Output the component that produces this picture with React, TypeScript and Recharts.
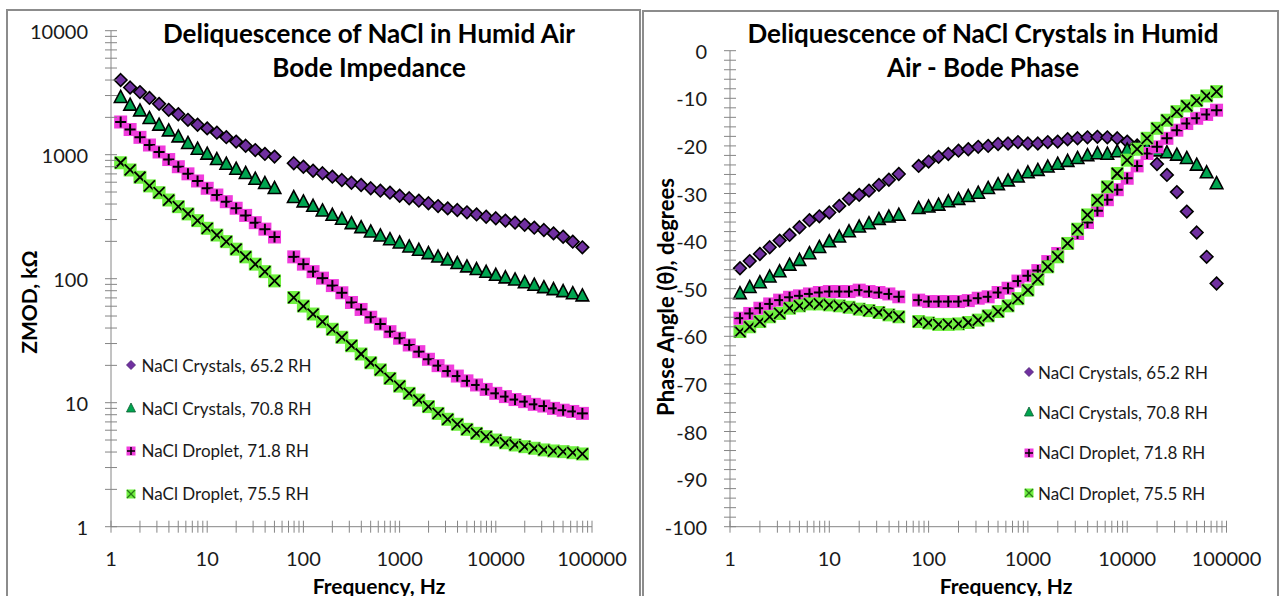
import React from 'react';
import { ScatterChart, Scatter, XAxis, YAxis, Legend } from 'recharts';

// ---------- data ----------
const FREQ_HZ = [
  1.26, 1.58, 2.0, 2.51, 3.16, 3.98, 5.01, 6.31, 7.94, 10.0, 12.6, 15.8, 20.0, 25.1, 31.6, 39.8, 50.1,
  79.4, 100, 126, 158, 200, 251, 316, 398, 501, 631, 794, 1000, 1259, 1585, 1995, 2512, 3162, 3981, 5012, 6310,
  7943, 10000, 12589, 15849, 19953, 25119, 31623, 39811, 50119, 63096, 79433,
];

const SERIES_NAMES = [
  'NaCl Crystals, 65.2 RH',
  'NaCl Crystals, 70.8 RH',
  'NaCl Droplet, 71.8 RH',
  'NaCl Droplet, 75.5 RH',
];

// |Z| in kOhm
const ZMOD_652 = [
  4000, 3480, 3200, 2870, 2570, 2300, 2120, 1910, 1745, 1630, 1505, 1385, 1275, 1180, 1090, 1015, 965,
  853, 800, 743, 708, 665, 625, 594, 570, 536, 513, 494, 467, 445, 426, 406, 385, 369, 358, 343, 330,
  316, 307, 294, 283, 272, 258, 247, 232, 218, 199, 179,
];
const ZMOD_708 = [
  2904, 2518, 2265, 1968, 1738, 1563, 1397, 1236, 1112, 1014, 918, 841, 767, 708, 637, 588, 536,
  453, 418, 385, 353, 326, 303, 279, 259, 239, 222, 207, 195, 181, 170, 160, 150, 142, 133, 125, 119,
  113, 107, 102, 98, 93, 89, 85, 82, 79, 76, 73,
];
const ZMOD_718 = [
  1835, 1596, 1380, 1197, 1052, 914, 800, 701, 614, 536, 473, 418, 370, 324, 283, 251, 217,
  150, 131, 114, 101, 88, 77, 64.3, 56.5, 48.9, 43.1, 37.4, 33.1, 29.2, 25.8, 22.4, 19.9, 18.0, 16.4, 15.0, 13.9,
  12.8, 11.9, 11.2, 10.6, 10.2, 9.7, 9.4, 9.0, 8.7, 8.5, 8.2,
];
const ZMOD_755 = [
  861, 753, 658, 560, 494, 431, 381, 333, 294, 255, 225, 199, 173, 150, 131, 114, 96,
  70.5, 60.2, 51.9, 45.0, 39.1, 33.7, 28.8, 24.7, 21.0, 18.4, 15.7, 13.6, 11.9, 10.5, 9.3, 8.2, 7.35, 6.7, 6.1, 5.66,
  5.32, 5.0, 4.75, 4.56, 4.42, 4.29, 4.16, 4.08, 4.03, 3.95, 3.86,
];

// phase in degrees
const PHASE_652 = [
  -45.7, -44.2, -42.7, -41.3, -39.9, -38.7, -37.1, -35.6, -34.8, -34.0, -32.6, -31.1, -30.3, -29.4, -28.2, -27.1, -25.9,
  -24.2, -23.3, -22.3, -21.7, -21.0, -20.7, -20.2, -20.0, -19.6, -19.5, -19.2, -19.5, -19.5, -19.2, -19.1, -18.6, -18.4,
  -18.2, -18.1, -18.2, -18.4, -19.1, -19.9, -21.3, -23.8, -26.1, -29.7, -33.8, -38.2, -43.3, -48.9,
];
const PHASE_708 = [
  -51.0, -49.7, -48.7, -47.5, -46.4, -45.0, -44.0, -42.6, -41.3, -40.1, -39.1, -38.0, -37.0, -36.3, -35.4, -34.9, -34.5,
  -33.1, -32.8, -32.4, -31.7, -31.2, -30.6, -29.9, -28.9, -28.1, -27.3, -26.5, -25.6, -25.1, -24.4, -23.8, -23.2, -22.6,
  -22.0, -21.6, -21.7, -21.2, -20.8, -20.4, -20.5, -21.0, -21.4, -21.9, -22.6, -24.0, -25.6, -27.9,
];
const PHASE_718 = [
  -56.2, -55.2, -54.1, -53.2, -52.4, -51.8, -51.5, -51.1, -50.8, -50.6, -50.6, -50.6, -50.3, -50.6, -50.8, -51.1, -51.7,
  -52.4, -52.7, -52.7, -52.7, -52.7, -52.5, -52.0, -51.7, -50.8, -49.9, -48.4, -47.3, -46.2, -44.3, -42.6, -40.5, -38.4,
  -36.1, -33.6, -31.3, -29.2, -26.8, -24.2, -21.6, -20.2, -18.4, -16.7, -15.3, -14.2, -13.4, -12.5,
];
const PHASE_755 = [
  -59.0, -58.0, -56.9, -55.9, -55.2, -54.1, -53.6, -53.2, -53.2, -53.4, -53.6, -53.9, -54.3, -54.6, -55.0, -55.5, -55.9,
  -56.9, -57.2, -57.5, -57.5, -57.4, -57.1, -56.6, -55.7, -54.8, -53.6, -52.1, -50.3, -48.0, -45.4, -43.3, -40.5, -37.5,
  -34.5, -31.4, -28.6, -25.8, -23.0, -20.7, -18.4, -16.3, -14.6, -12.8, -11.6, -10.5, -9.5, -8.6,
];

// ticks
const X_MAJOR_TICKS = [1, 10, 100, 1000, 10000, 100000];
const X_TICK_LABELS = ['1', '10', '100', '1000', '10000', '100000'];
const ZMOD_MAJOR_TICKS = [1, 10, 100, 1000, 10000];
const ZMOD_TICK_LABELS = ['1', '10', '100', '1000', '10000'];
const PHASE_MAJOR_TICKS = [0, -10, -20, -30, -40, -50, -60, -70, -80, -90, -100];
const PHASE_TICK_LABELS = ['0', '-10', '-20', '-30', '-40', '-50', '-60', '-70', '-80', '-90', '-100'];
const LOG_MINOR_MULTIPLIERS = [2, 3, 4, 5, 6, 7, 8, 9];
const PHASE_MINOR_STEP = 2;

const TITLE_LEFT = ['Deliquescence of NaCl in Humid Air', 'Bode Impedance'];
const TITLE_RIGHT = ['Deliquescence of NaCl Crystals in Humid', 'Air - Bode Phase'];
const X_TITLE = 'Frequency, Hz';
const Y_TITLE_LEFT = 'ZMOD, kΩ';
const Y_TITLE_RIGHT = 'Phase Angle (θ), degrees';

// ---------- style ----------
const FONT = "Lato, 'Open Sans', sans-serif";
const AXIS_GRAY = '#868686';
const BORDER_GRAY = '#8c8c8c';
const PURPLE = '#7030A0';
const GREEN = '#00A550';
const MAGENTA = '#F03CDC';
const LIME = '#70F040';

const logTicks = (majors: number[]) => {
  const out = [...majors];
  majors.slice(0, -1).forEach((d) => LOG_MINOR_MULTIPLIERS.forEach((m) => out.push(m * d)));
  return out;
};
const X_TICKS = logTicks(X_MAJOR_TICKS);
const ZMOD_TICKS = logTicks(ZMOD_MAJOR_TICKS);
const PHASE_TICKS = (() => {
  const out: number[] = [];
  for (let v = 0; v >= -100; v -= PHASE_MINOR_STEP) out.push(v);
  return out;
})();

const labelFor = (majors: number[], labels: string[], v: number) => {
  const i = majors.indexOf(v);
  return i >= 0 ? labels[i] : null;
};

function makeXTick(majors: number[], labels: string[]) {
  return (props: any) => {
    const { x, y, payload } = props;
    const lab = labelFor(majors, labels, payload.value);
    return (
      <g>
        <line x1={x} x2={x} y1={y - 6} y2={y + 6} stroke={AXIS_GRAY} strokeWidth={1} />
        {lab !== null && (
          <text x={x} y={y + 31} textAnchor="middle" dominantBaseline="central" fontSize={20} fill="#1a1a1a" fontFamily={FONT}>
            {lab}
          </text>
        )}
      </g>
    );
  };
}

function makeYTick(majors: number[], labels: string[]) {
  return (props: any) => {
    const { x, y, payload } = props;
    const lab = labelFor(majors, labels, payload.value);
    return (
      <g>
        <line x1={x - 6} x2={x + 6} y1={y} y2={y} stroke={AXIS_GRAY} strokeWidth={1} />
        {lab !== null && (
          <text x={x - 23} y={y} textAnchor="end" dominantBaseline="central" fontSize={20} fill="#1a1a1a" fontFamily={FONT}>
            {lab}
          </text>
        )}
      </g>
    );
  };
}

// ---------- markers ----------
const Diamond = (p: any) => {
  const { cx, cy } = p;
  const r = 6.3;
  return <polygon points={`${cx},${cy - r} ${cx + r},${cy} ${cx},${cy + r} ${cx - r},${cy}`} fill={PURPLE} stroke="#000" strokeWidth={1.6} />;
};
const Triangle = (p: any) => {
  const { cx, cy } = p;
  return <polygon points={`${cx},${cy - 6.8} ${cx + 6.3},${cy + 5.2} ${cx - 6.3},${cy + 5.2}`} fill={GREEN} stroke="#000" strokeWidth={1.6} strokeLinejoin="miter" />;
};
const PlusSq = (p: any) => {
  const { cx, cy } = p;
  return (
    <g>
      <rect x={cx - 6.5} y={cy - 6.5} width={13} height={13} fill={MAGENTA} />
      <line x1={cx - 5.5} x2={cx + 5.5} y1={cy} y2={cy} stroke="#000" strokeWidth={2} />
      <line x1={cx} x2={cx} y1={cy - 5.5} y2={cy + 5.5} stroke="#000" strokeWidth={2} />
    </g>
  );
};
const XSq = (p: any) => {
  const { cx, cy } = p;
  return (
    <g>
      <rect x={cx - 6.5} y={cy - 6.5} width={13} height={13} fill={LIME} />
      <line x1={cx - 5.5} x2={cx + 5.5} y1={cy - 5.5} y2={cy + 5.5} stroke="#000" strokeWidth={1.8} />
      <line x1={cx - 5.5} x2={cx + 5.5} y1={cy + 5.5} y2={cy - 5.5} stroke="#000" strokeWidth={1.8} />
    </g>
  );
};
const SHAPES = [Diamond, Triangle, PlusSq, XSq];
const SERIES_FILLS = [PURPLE, GREEN, MAGENTA, LIME];

const legendMarker = (i: number) => {
  const c = 6;
  if (i === 0) return <polygon points={`${c},${c - 4.5} ${c + 4.5},${c} ${c},${c + 4.5} ${c - 4.5},${c}`} fill={PURPLE} stroke="#4a1f70" strokeWidth={0.8} />;
  if (i === 1) return <polygon points={`${c},${c - 5} ${c + 4.5},${c + 4} ${c - 4.5},${c + 4}`} fill={GREEN} stroke="#0b5a2e" strokeWidth={0.8} />;
  if (i === 2)
    return (
      <g>
        <rect x={c - 4.5} y={c - 4.5} width={9} height={9} fill={MAGENTA} />
        <line x1={c - 4} x2={c + 4} y1={c} y2={c} stroke="#000" strokeWidth={1.5} />
        <line x1={c} x2={c} y1={c - 4} y2={c + 4} stroke="#000" strokeWidth={1.5} />
      </g>
    );
  return (
    <g>
      <rect x={c - 4.5} y={c - 4.5} width={9} height={9} fill={LIME} />
      <line x1={c - 4} x2={c + 4} y1={c - 4} y2={c + 4} stroke="#2a7a1a" strokeWidth={1.2} />
      <line x1={c - 4} x2={c + 4} y1={c + 4} y2={c - 4} stroke="#2a7a1a" strokeWidth={1.2} />
    </g>
  );
};

function makeLegend(rowHeight: number, textGap: number) {
  return (props: any) => {
    const payload = (props && props.payload) || [];
    const names = payload.length ? payload.map((e: any) => e.value) : SERIES_NAMES;
    return (
      <div style={{ fontFamily: FONT, fontSize: 17, color: '#1a1a1a' }}>
        {names.map((name: string, i: number) => (
          <div key={name} style={{ display: 'flex', alignItems: 'center', height: rowHeight, whiteSpace: 'nowrap' }}>
            <svg width={12} height={12} style={{ display: 'block' }}>{legendMarker(i)}</svg>
            <span style={{ marginLeft: textGap }}>{name}</span>
          </div>
        ))}
      </div>
    );
  };
}

const buildData = (vals: number[]) => FREQ_HZ.map((f, j) => ({ f, v: vals[j] }));

function ImpedanceChart() {
  const series = [ZMOD_652, ZMOD_708, ZMOD_718, ZMOD_755];
  return (
    <ScatterChart width={640} height={596} margin={{ top: 30.7, right: 48, bottom: 9.3, left: 51 }}>
      <XAxis
        type="number" dataKey="f" scale="log" domain={[1, 100000]} ticks={X_TICKS} interval={0}
        tick={makeXTick(X_MAJOR_TICKS, X_TICK_LABELS)} tickLine={false} tickSize={0} tickMargin={0}
        axisLine={{ stroke: AXIS_GRAY }} height={60} allowDataOverflow
      />
      <YAxis
        type="number" dataKey="v" scale="log" domain={[1, 10000]} ticks={ZMOD_TICKS} interval={0}
        tick={makeYTick(ZMOD_MAJOR_TICKS, ZMOD_TICK_LABELS)} tickLine={false} tickSize={0} tickMargin={0}
        axisLine={{ stroke: AXIS_GRAY }} width={60} allowDataOverflow
      />
      {series.map((vals, i) => (
        <Scatter key={SERIES_NAMES[i]} name={SERIES_NAMES[i]} data={buildData(vals)} fill={SERIES_FILLS[i]} shape={SHAPES[i]} isAnimationActive={false} />
      ))}
      <Legend
        layout="vertical" align="center" verticalAlign="middle"
        content={makeLegend(42.8, 4.6)}
        wrapperStyle={{ left: 125, top: 344, width: 260, height: 172 }}
      />
    </ScatterChart>
  );
}

function PhaseChart() {
  const series = [PHASE_652, PHASE_708, PHASE_718, PHASE_755];
  return (
    <ScatterChart width={641} height={596} margin={{ top: 50.7, right: 54.5, bottom: 9.3, left: 30 }}>
      <XAxis
        type="number" dataKey="f" scale="log" domain={[1, 100000]} ticks={X_TICKS} interval={0}
        tick={makeXTick(X_MAJOR_TICKS, X_TICK_LABELS)} tickLine={false} tickSize={0} tickMargin={0}
        axisLine={{ stroke: AXIS_GRAY }} height={60} allowDataOverflow
      />
      <YAxis
        type="number" dataKey="v" domain={[-100, 0]} ticks={PHASE_TICKS} interval={0}
        tick={makeYTick(PHASE_MAJOR_TICKS, PHASE_TICK_LABELS)} tickLine={false} tickSize={0} tickMargin={0}
        axisLine={{ stroke: AXIS_GRAY }} width={60} allowDataOverflow
      />
      {series.map((vals, i) => (
        <Scatter key={SERIES_NAMES[i]} name={SERIES_NAMES[i]} data={buildData(vals)} fill={SERIES_FILLS[i]} shape={SHAPES[i]} isAnimationActive={false} />
      ))}
      <Legend
        layout="vertical" align="center" verticalAlign="middle"
        content={makeLegend(40.3, 3.4)}
        wrapperStyle={{ left: 382.6, top: 352, width: 260, height: 162 }}
      />
    </ScatterChart>
  );
}

const titleStyle = (cx: number): React.CSSProperties => ({
  position: 'absolute', left: cx - 300, top: 16, width: 600, textAlign: 'center',
  fontFamily: FONT, fontWeight: 700, fontSize: 26, lineHeight: '34px', color: '#000',
});

const abs = (left: number, top: number, extra: React.CSSProperties = {}): React.CSSProperties => ({
  position: 'absolute', left, top, transform: 'translate(-50%, -50%)', whiteSpace: 'nowrap',
  fontFamily: FONT, fontWeight: 700, fontSize: 21, color: '#000', ...extra,
});

export default function App() {
  return (
    <div style={{ position: 'absolute', left: 0, top: 0, width: 1281, height: 596, overflow: 'hidden', background: '#fff' }}>
      {/* panel frames */}
      <div style={{ position: 'absolute', left: 6, top: 9, width: 631, height: 600, border: `2px solid ${BORDER_GRAY}` }} />
      <div style={{ position: 'absolute', left: 642, top: 10, width: 633, height: 600, border: `2px solid ${BORDER_GRAY}` }} />

      <div style={{ position: 'absolute', left: 0, top: 0 }}>
        <ImpedanceChart />
      </div>
      <div style={{ position: 'absolute', left: 640, top: 0 }}>
        <PhaseChart />
      </div>

      <div style={titleStyle(369)}>
        <div>{TITLE_LEFT[0]}</div>
        <div>{TITLE_LEFT[1]}</div>
      </div>
      <div style={titleStyle(983)}>
        <div>{TITLE_RIGHT[0]}</div>
        <div>{TITLE_RIGHT[1]}</div>
      </div>

      <div style={abs(379, 585)}>{X_TITLE}</div>
      <div style={abs(1006, 585)}>{X_TITLE}</div>
      <div style={abs(28, 302, { transform: 'translate(-50%, -50%) rotate(-90deg)' })}>{Y_TITLE_LEFT}</div>
      <div style={abs(665, 297, { transform: 'translate(-50%, -50%) rotate(-90deg)', fontSize: 22 })}>{Y_TITLE_RIGHT}</div>
    </div>
  );
}
